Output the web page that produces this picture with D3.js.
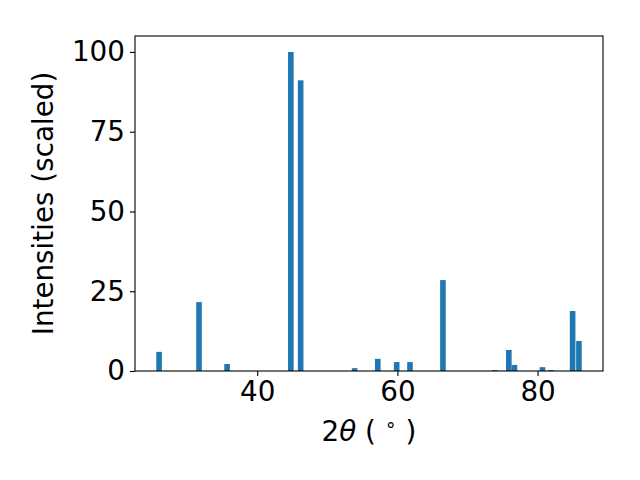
<!DOCTYPE html>
<html>
<head>
<meta charset="utf-8">
<script src="https://cdn.jsdelivr.net/npm/d3@7"></script>
<style>
  body { margin: 0; background: #fff; }
  text { font-family: "DejaVu Sans", sans-serif; }
</style>
</head>
<body>
<div id="chart"></div>
<script>
// peak positions (2theta, degrees) and scaled intensities
let twoTheta = [26.0, 31.7, 35.7, 44.8, 46.2, 53.9, 57.2, 59.9, 61.8, 66.5, 73.9, 75.9, 76.7, 80.7, 81.9, 85.0, 85.9];
let intensity = [6.0, 21.6, 2.2, 100, 91.1, 0.9, 3.8, 2.8, 2.8, 28.5, 0.3, 6.6, 1.9, 1.2, 0.3, 18.8, 9.4];
let xTicks = [40, 60, 80];
let yTicks = [0, 25, 50, 75, 100];

let svgWidth = 640;
let svgHeight = 480;
let margin = { top: 36, right: 37, bottom: 109, left: 135 };
let width = svgWidth - margin.left - margin.right;
let height = svgHeight - margin.top - margin.bottom;
let barWidth = 0.8;
let fontSize = "27.8px";

var svg = d3.select("#chart")
    .append("svg")
    .attr("width", svgWidth)
    .attr("height", svgHeight);

var chartGroup = svg.append("g")
    .attr("transform", `translate(${margin.left}, ${margin.top})`);

// matplotlib-like 5% margins around the bars
let xmin = d3.min(twoTheta) - barWidth / 2;
let xmax = d3.max(twoTheta) + barWidth / 2;
let pad = (xmax - xmin) * 0.05;

var xScale = d3.scaleLinear()
    .domain([xmin - pad, xmax + pad])
    .range([0, width]);

var yScale = d3.scaleLinear()
    .domain([0, 105])
    .range([height, 0]);

// bars
chartGroup.selectAll("rect.bar")
    .data(twoTheta.map((t, i) => ({ t: t, v: intensity[i] })))
    .enter()
    .append("rect")
    .attr("class", "bar")
    .attr("x", d => xScale(d.t - barWidth / 2))
    .attr("width", d => xScale(d.t + barWidth / 2) - xScale(d.t - barWidth / 2))
    .attr("y", d => yScale(d.v))
    .attr("height", d => yScale(0) - yScale(d.v))
    .attr("fill", "#1f77b4");

// axes
var bottomAxis = d3.axisBottom(xScale).tickValues(xTicks).tickSize(5).tickPadding(5);
var leftAxis = d3.axisLeft(yScale).tickValues(yTicks).tickSize(5).tickPadding(5);

var gx = chartGroup.append("g")
    .attr("transform", `translate(0, ${height})`)
    .call(bottomAxis);
var gy = chartGroup.append("g")
    .call(leftAxis);

[gx, gy].forEach(g => {
    g.attr("font-size", null).attr("font-family", null);
    g.select(".domain").remove();
    g.selectAll(".tick line").attr("stroke", "#000").attr("stroke-width", 1.1);
    g.selectAll(".tick text")
        .attr("fill", "#000")
        .style("font-size", fontSize);
});

// frame
chartGroup.append("rect")
    .attr("x", 0)
    .attr("y", 0)
    .attr("width", width)
    .attr("height", height)
    .attr("fill", "none")
    .attr("stroke", "#000")
    .attr("stroke-width", 1.1);

// axis labels
chartGroup.append("text")
    .attr("transform", "rotate(-90)")
    .attr("x", -height / 2)
    .attr("y", -82)
    .attr("text-anchor", "middle")
    .style("font-size", fontSize)
    .attr("fill", "#000")
    .text("Intensities (scaled)");

var xl = chartGroup.append("text")
    .attr("x", width / 2)
    .attr("y", 441 - margin.top)
    .attr("text-anchor", "middle")
    .style("font-size", fontSize)
    .attr("fill", "#000");
xl.append("tspan").text("2");
xl.append("tspan").attr("font-style", "italic").text("θ");
xl.append("tspan").text(" ( ");
xl.append("tspan").style("font-size", "19px").attr("dy", "-10").text("∘");
xl.append("tspan").attr("dy", "10").text(" )");
</script>
</body>
</html>
